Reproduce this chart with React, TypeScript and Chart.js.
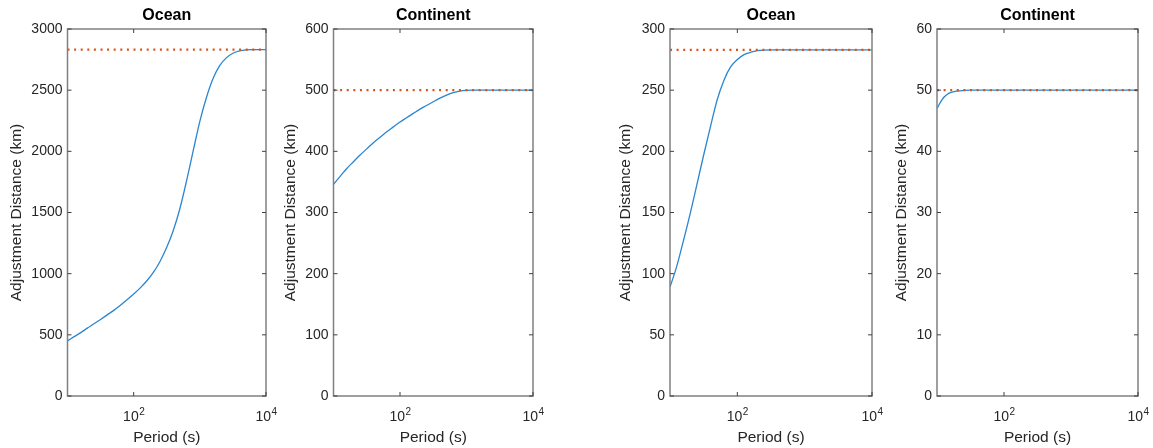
import React, { useEffect, useRef } from 'react';
import { Chart, registerables } from 'chart.js';

Chart.register(...registerables);

// ---------------- data ----------------
const panelTitles = ['Ocean', 'Continent', 'Ocean', 'Continent'];
const xAxisTitle = 'Period (s)';
const yAxisTitle = 'Adjustment Distance (km)';

const xMin = 10;
const xMax = 10000;
const xTickValues = [100, 10000];
const xTickExponents = ['2', '4'];

const yMaxes = [3000, 600, 300, 60];
const ySteps = [500, 100, 50, 10];

// periods (s), log-spaced
const periods = [
  10, 12.59, 15.85, 19.95, 25.12, 31.62, 39.81, 50.12, 63.1, 79.43,
  100, 125.9, 158.5, 199.5, 251.2, 316.2, 398.1, 501.2, 631, 794.3,
  1000, 1259, 1585, 1995, 2512, 3162, 3981, 5012, 6310, 7943, 10000,
];

const oceanLarge = [
  451, 485, 518, 555, 590, 626, 663, 700, 742, 786,
  833, 884, 942, 1012, 1102, 1215, 1355, 1535, 1760, 2005,
  2245, 2440, 2595, 2700, 2764, 2802, 2821, 2829, 2831, 2832, 2832,
];

const continentLarge = [
  346, 359, 372, 383, 394, 404, 414, 423, 432, 440,
  448, 455, 462, 469, 475, 481, 487, 492, 496, 498.5,
  499.6, 500, 500, 500, 500, 500, 500, 500, 500, 500, 500,
];

const oceanSmall = [
  89, 106, 127, 149, 173, 197, 220, 242, 258, 269,
  275, 279, 281, 282.3, 282.8, 283, 283, 283, 283, 283,
  283, 283, 283, 283, 283, 283, 283, 283, 283, 283, 283,
];

const periodsContinentSmall = [10, 11.22, 12.59, 14.13, 15.85, 19.95, 25.12, 31.62, 100, 1000, 10000];
const continentSmall = [47.0, 48.0, 48.8, 49.3, 49.6, 49.85, 49.95, 50, 50, 50, 50];

const asymptotes = [2832, 500, 283, 50];

const seriesX = [periods, periods, periods, periodsContinentSmall];
const seriesY = [oceanLarge, continentLarge, oceanSmall, continentSmall];

// ---------------- layout / style ----------------
const W = 1153;
const H = 448;
const boxLeft = [67.5, 333.5, 670, 937];
const boxRight = [266, 533, 872, 1138];
const boxTop = 29;
const boxBottom = 396;
const yTitleCenter = [17, 291, 626, 901.5];

const FONT = '"Liberation Sans", Arial, Helvetica, sans-serif';
const textColor = '#262626';
const boxColor = '#808080';
const lineBlue = '#2a86d0';
const dotOrange = '#D95319';

function Panel({ idx }: { idx: number }) {
  const ref = useRef<HTMLCanvasElement>(null);

  useEffect(() => {
    const cv = ref.current;
    if (!cv) return;
    const L = boxLeft[idx];
    const R = boxRight[idx];
    const yTitleFont = 15.5;
    const yTitleLH = yTitleFont * 1.2;
    const padL = yTitleCenter[idx] - yTitleLH / 2;

    const boxPlugin = {
      id: 'matlabBox' + idx,
      afterDatasetsDraw(chart: any) {
        const ctx = chart.ctx as CanvasRenderingContext2D;
        const a = chart.chartArea;
        const xs = chart.scales.x;
        const ys = chart.scales.y;
        ctx.save();
        // box
        ctx.strokeStyle = boxColor;
        ctx.lineWidth = 1.5;
        ctx.strokeRect(a.left, a.top, a.right - a.left, a.bottom - a.top);
        // inward ticks
        ctx.strokeStyle = '#404040';
        ctx.lineWidth = 1;
        const tl = 4;
        const seg = (x1: number, y1: number, x2: number, y2: number) => {
          ctx.beginPath();
          ctx.moveTo(x1, y1);
          ctx.lineTo(x2, y2);
          ctx.stroke();
        };
        ys.ticks.forEach((t: any) => {
          const y = ys.getPixelForValue(t.value);
          seg(a.left, y, a.left + tl, y);
          seg(a.right, y, a.right - tl, y);
        });
        xTickValues.forEach((v) => {
          const x = xs.getPixelForValue(v);
          seg(x, a.bottom, x, a.bottom - tl);
          seg(x, a.top, x, a.top + tl);
        });
        // x tick labels with superscript exponents
        ctx.fillStyle = textColor;
        ctx.textBaseline = 'alphabetic';
        ctx.textAlign = 'left';
        const baseFont = `14px ${FONT}`;
        const supFont = `10px ${FONT}`;
        xTickValues.forEach((v, i) => {
          const x = xs.getPixelForValue(v);
          ctx.font = baseFont;
          const w1 = ctx.measureText('10').width;
          ctx.font = supFont;
          const w2 = ctx.measureText(xTickExponents[i]).width;
          const x0 = x - (w1 + w2) / 2;
          ctx.font = baseFont;
          ctx.fillText('10', x0, 421);
          ctx.font = supFont;
          ctx.fillText(xTickExponents[i], x0 + w1 + 0.5, 414.5);
        });
        ctx.restore();
      },
    };

    const xs = seriesX[idx];
    const ysv = seriesY[idx];

    const chart = new Chart(cv, {
      type: 'line',
      data: {
        datasets: [
          {
            data: [
              { x: xMin, y: asymptotes[idx] },
              { x: xMax, y: asymptotes[idx] },
            ],
            borderColor: dotOrange,
            borderWidth: 2.2,
            borderDash: [2, 4.6],
            borderCapStyle: 'butt',
            pointRadius: 0,
            fill: false,
          },
          {
            data: xs.map((p, i) => ({ x: p, y: ysv[i] })),
            borderColor: lineBlue,
            borderWidth: 1.3,
            pointRadius: 0,
            fill: false,
            cubicInterpolationMode: 'monotone',
          },
        ],
      },
      options: {
        responsive: false,
        animation: false,
        layout: { padding: { left: padL, right: W - R, top: 0, bottom: 0 } },
        plugins: {
          legend: { display: false },
          tooltip: { enabled: false },
          title: {
            display: true,
            text: panelTitles[idx],
            fullSize: false,
            color: '#000000',
            font: { family: FONT, size: 16, weight: 'bold', lineHeight: 1.2 },
            padding: { top: 5.9, bottom: boxTop - 19.2 - 5.9 },
          },
        },
        scales: {
          x: {
            type: 'logarithmic',
            min: xMin,
            max: xMax,
            grid: { display: false, drawTicks: false },
            border: { display: false },
            ticks: { display: false },
            title: {
              display: true,
              text: xAxisTitle,
              color: textColor,
              font: { family: FONT, size: 15.5, lineHeight: 1.2 },
              padding: { top: 0, bottom: 0.7 },
            },
            afterFit: (s: any) => {
              s.height = H - boxBottom;
            },
          },
          y: {
            type: 'linear',
            min: 0,
            max: yMaxes[idx],
            grid: { display: false, drawTicks: false },
            border: { display: false },
            ticks: {
              stepSize: ySteps[idx],
              color: textColor,
              padding: 5,
              font: { family: FONT, size: 14 },
              callback: (v: any) => String(v),
            },
            title: {
              display: true,
              text: yAxisTitle,
              color: textColor,
              font: { family: FONT, size: yTitleFont, lineHeight: 1.2 },
              padding: { top: 0, bottom: 0 },
            },
            afterFit: (s: any) => {
              s.width = L - padL;
            },
          },
        },
      } as any,
      plugins: [boxPlugin],
    });
    return () => chart.destroy();
  }, [idx]);

  return (
    <canvas
      ref={ref}
      width={W}
      height={H}
      style={{ position: 'absolute', left: 0, top: 0, width: W, height: H }}
    />
  );
}

export default function App() {
  return (
    <div
      style={{
        position: 'absolute',
        left: 0,
        top: 0,
        width: W,
        height: H,
        background: '#ffffff',
        overflow: 'hidden',
      }}
    >
      {panelTitles.map((_, i) => (
        <Panel key={i} idx={i} />
      ))}
    </div>
  );
}
